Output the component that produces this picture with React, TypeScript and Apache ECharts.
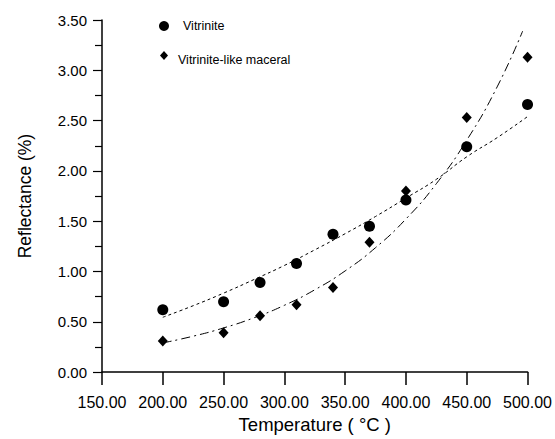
import React, { useEffect, useRef } from "react";
import * as echarts from "echarts";

const temps = [200, 250, 280, 310, 340, 370, 400, 450, 500];
const vitrinite = [0.62, 0.7, 0.89, 1.08, 1.37, 1.45, 1.71, 2.24, 2.66];
const vitriniteLike = [0.31, 0.39, 0.56, 0.67, 0.84, 1.29, 1.8, 2.53, 3.13];

const vitTrendTemps = [200, 225, 250, 275, 300, 325, 350, 375, 400, 425, 450, 475, 500];
const vitTrend = [0.545, 0.66, 0.785, 0.92, 1.06, 1.215, 1.376, 1.547, 1.73, 1.916, 2.14, 2.33, 2.54];

const likeTrendTemps = [200, 225, 250, 275, 300, 325, 350, 375, 400, 425, 450, 475, 496];
const likeTrend = [0.29, 0.357, 0.439, 0.54, 0.664, 0.818, 1.006, 1.237, 1.522, 1.873, 2.305, 2.835, 3.39];

const legendLabels = ["Vitrinite", "Vitrinite-like maceral"];

const FONT = "'Liberation Sans', Arial, sans-serif";

export default function App() {
  const ref = useRef<HTMLDivElement>(null);
  useEffect(() => {
    if (!ref.current) return;
    const chart = echarts.init(ref.current, undefined, { renderer: "svg" });
    const zip = (xs: number[], ys: number[]) => xs.map((x, i) => [x, ys[i]]);
    chart.setOption({
      animation: false,
      backgroundColor: "#ffffff",
      grid: { left: 102, right: 27, top: 20, bottom: 60.5, containLabel: false },
      xAxis: {
        type: "value",
        min: 150,
        max: 500,
        interval: 50,
        name: "Temperature ( °C )",
        nameLocation: "middle",
        nameGap: 41,
        nameTextStyle: { color: "#000", fontSize: 18.5, fontFamily: FONT },
        axisLine: { show: true, onZero: false, lineStyle: { color: "#000", width: 1.5 } },
        axisTick: { show: true, inside: false, length: 13, lineStyle: { color: "#000", width: 1.5 } },
        axisLabel: {
          color: "#000",
          fontSize: 16,
          fontFamily: FONT,
          margin: 22,
          formatter: (v: number) => v.toFixed(2),
        },
        splitLine: { show: false },
      },
      yAxis: {
        type: "value",
        min: 0,
        max: 3.5,
        interval: 0.5,
        name: "Reflectance (%)",
        nameLocation: "middle",
        nameGap: 68,
        nameRotate: 90,
        nameTextStyle: { color: "#000", fontSize: 17.5, fontFamily: FONT },
        axisLine: { show: true, onZero: false, lineStyle: { color: "#000", width: 1.5 } },
        axisTick: { show: true, inside: false, length: 9, lineStyle: { color: "#000", width: 1.2 } },
        minorTick: { show: true, splitNumber: 2, length: 7, lineStyle: { color: "#000", width: 1.2 } },
        axisLabel: {
          color: "#000",
          fontSize: 15,
          fontFamily: FONT,
          margin: 15,
          formatter: (v: number) => v.toFixed(2),
        },
        splitLine: { show: false },
      },
      series: [
        {
          name: "Vitrinite trend",
          type: "line",
          data: zip(vitTrendTemps, vitTrend),
          smooth: true,
          showSymbol: false,
          symbol: "none",
          lineStyle: { color: "#000", width: 1, type: [3, 3] },
          z: 1,
        },
        {
          name: "Vitrinite-like trend",
          type: "line",
          data: zip(likeTrendTemps, likeTrend),
          smooth: true,
          showSymbol: false,
          symbol: "none",
          lineStyle: { color: "#000", width: 1, type: [9, 4, 2, 4] },
          z: 1,
        },
        {
          name: legendLabels[0],
          type: "scatter",
          data: zip(temps, vitrinite),
          symbol: "circle",
          symbolSize: 11,
          itemStyle: { color: "#000", opacity: 1 },
          z: 3,
        },
        {
          name: legendLabels[1],
          type: "scatter",
          data: zip(temps, vitriniteLike),
          symbol: "diamond",
          symbolSize: [10, 11],
          itemStyle: { color: "#000", opacity: 1 },
          z: 3,
        },
      ],
      graphic: [
        { type: "circle", shape: { cx: 164, cy: 26, r: 5 }, style: { fill: "#000" } },
        {
          type: "text",
          x: 183,
          y: 26,
          style: { text: legendLabels[0], fill: "#000", fontSize: 12.5, fontFamily: FONT, verticalAlign: "middle", align: "left" },
        },
        {
          type: "polygon",
          shape: { points: [[164, 51], [168, 55.5], [164, 60], [160, 55.5]] },
          style: { fill: "#000" },
        },
        {
          type: "text",
          x: 178,
          y: 60,
          style: { text: legendLabels[1], fill: "#000", fontSize: 12.5, fontFamily: FONT, verticalAlign: "middle", align: "left" },
        },
      ],
    });
    return () => chart.dispose();
  }, []);
  return <div ref={ref} style={{ width: 555, height: 439, position: "absolute", left: 0, top: 0 }} />;
}
